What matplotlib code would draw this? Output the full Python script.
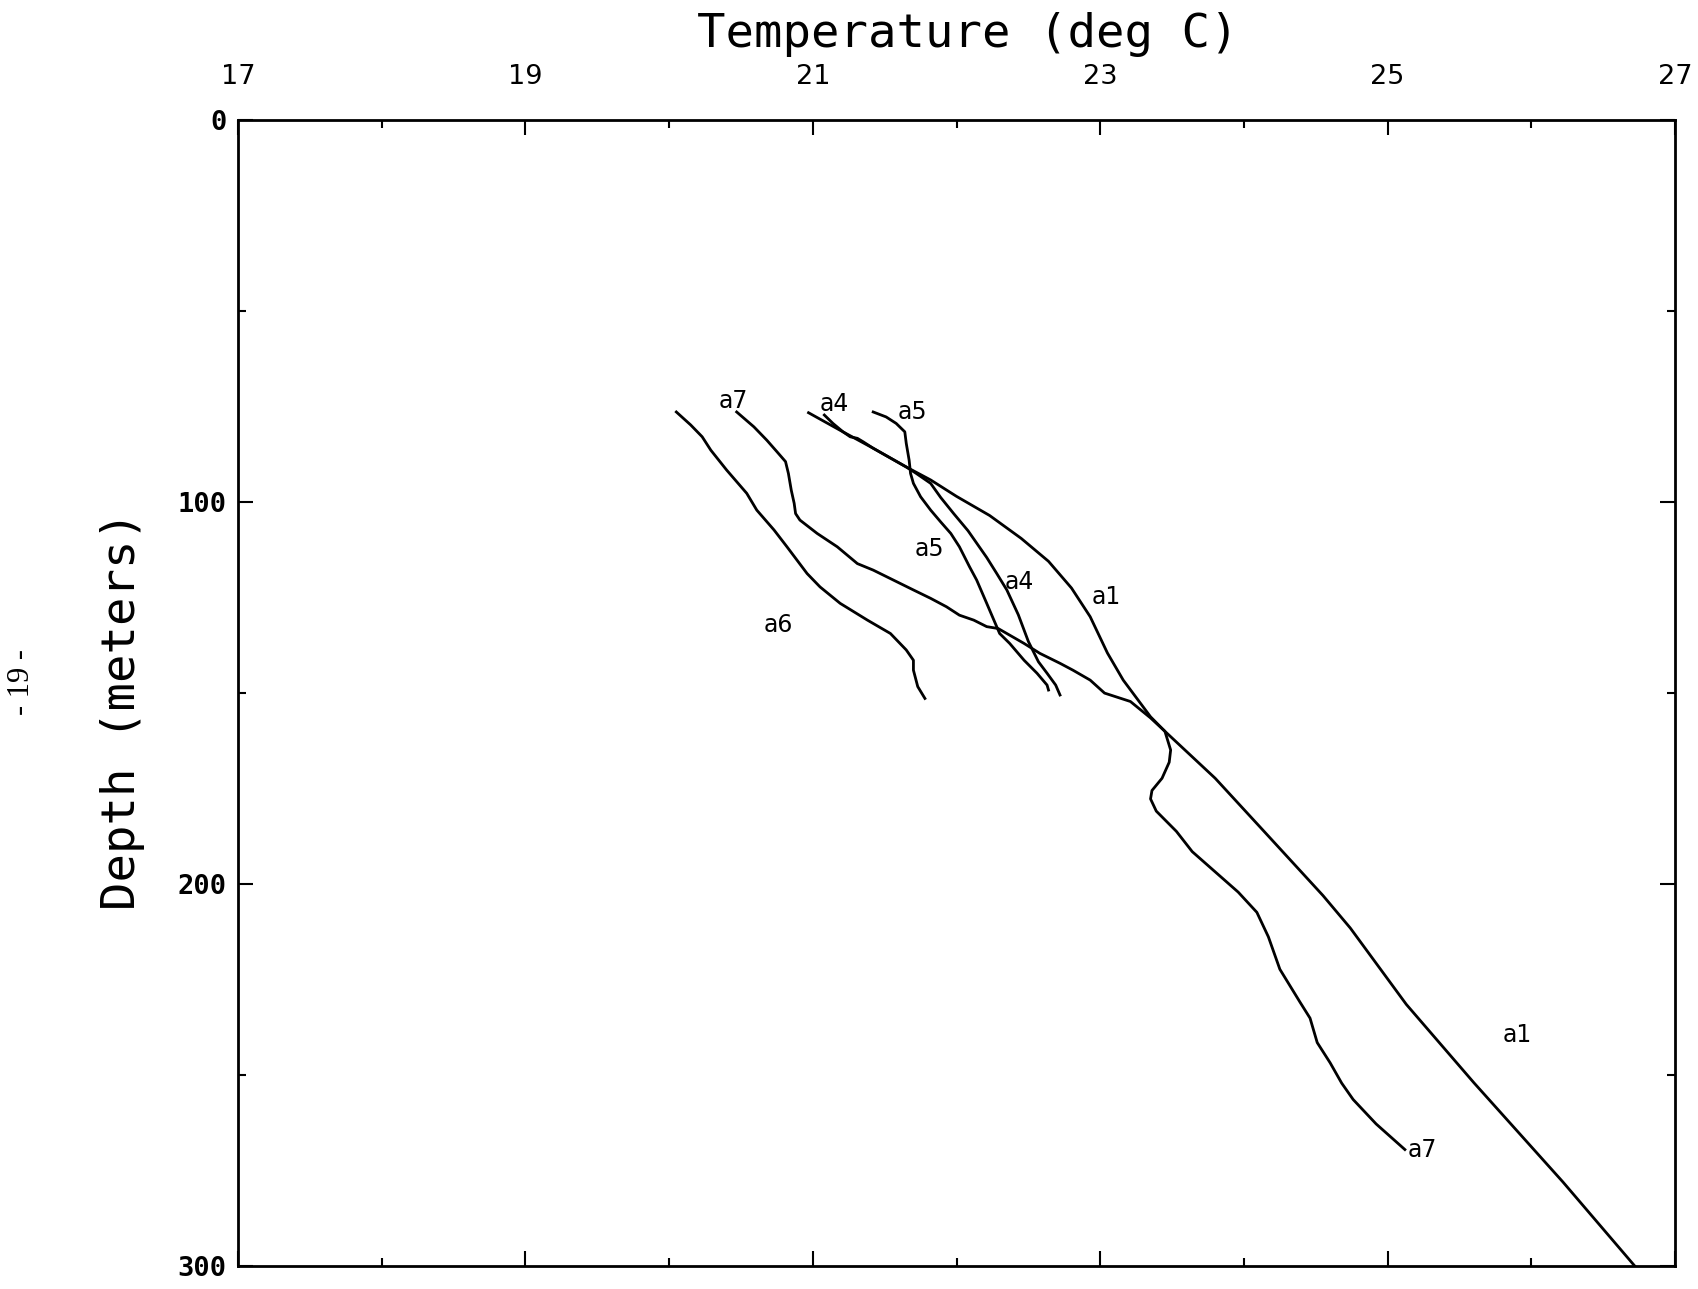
import matplotlib
matplotlib.use("Agg")
import matplotlib.pyplot as plt

# Temperature (deg C) vs depth (m) profiles
a1_temp = [20.97, 21.19, 21.42, 21.65, 21.82, 22.00, 22.23, 22.45, 22.64, 22.80,
           22.93, 23.05, 23.16, 23.35, 23.45, 23.80, 24.14, 24.55, 24.74, 25.13,
           25.60, 26.22, 26.72]
a1_depth = [76.6, 81.2, 85.9, 90.8, 94.2, 98.5, 103.5, 109.5, 115.5, 122.5,
            130.0, 139.5, 146.6, 156.2, 160.0, 172.3, 186.2, 203.0, 211.5, 231.5,
            252.0, 278.0, 300.0]

a4_temp = [21.08, 21.14, 21.21, 21.26, 21.31, 21.35, 21.42, 21.65, 21.72, 21.82,
           21.89, 21.98, 22.08, 22.21, 22.28, 22.35, 22.43, 22.50, 22.57, 22.63,
           22.69, 22.72]
a4_depth = [77.2, 79.4, 81.6, 82.9, 83.3, 84.2, 85.9, 90.8, 92.5, 95.1,
            98.8, 103.0, 107.5, 114.5, 118.7, 123.0, 129.5, 136.5, 141.8, 144.8,
            147.9, 150.5]

a5_temp = [21.42, 21.51, 21.58, 21.64, 21.65, 21.67, 21.68, 21.70, 21.75, 21.82,
           21.89, 21.96, 22.02, 22.09, 22.14, 22.21, 22.26, 22.30, 22.37, 22.47,
           22.56, 22.63, 22.64]
a5_depth = [76.4, 77.7, 79.4, 81.6, 84.6, 89.0, 92.5, 95.1, 98.6, 102.1,
            105.2, 108.2, 111.7, 116.9, 120.4, 126.5, 130.9, 134.4, 137.0, 141.4,
            144.8, 147.9, 149.2]

a6_temp = [20.05, 20.15, 20.23, 20.29, 20.40, 20.54, 20.61, 20.73, 20.82, 20.89,
           20.96, 21.05, 21.19, 21.38, 21.54, 21.65, 21.70, 21.70, 21.73, 21.78]
a6_depth = [76.4, 79.8, 82.9, 86.4, 91.6, 97.7, 102.1, 107.3, 111.7, 115.2,
            118.7, 122.2, 126.5, 130.9, 134.4, 138.7, 141.4, 144.0, 148.3, 151.4]

a7_temp = [20.47, 20.59, 20.68, 20.75, 20.81, 20.83, 20.85, 20.87, 20.88, 20.91,
           21.03, 21.17, 21.31, 21.42, 21.56, 21.70, 21.82, 21.93, 22.02, 22.12,
           22.21, 22.29, 22.35, 22.47, 22.58, 22.72, 22.81, 22.93, 23.03, 23.21,
           23.35, 23.45, 23.49, 23.48, 23.43, 23.36, 23.35, 23.39, 23.53, 23.64,
           23.80, 23.96, 24.09, 24.17, 24.25, 24.39, 24.46, 24.51, 24.60, 24.68,
           24.76, 24.92, 25.12]
a7_depth = [76.4, 80.3, 83.8, 86.8, 89.4, 92.5, 96.9, 100.3, 103.0, 104.7,
            108.2, 111.7, 116.1, 117.8, 120.4, 123.0, 125.2, 127.4, 129.6, 130.9,
            132.6, 133.1, 134.4, 137.0, 139.6, 142.2, 144.0, 146.6, 150.0, 152.2,
            156.5, 160.0, 164.9, 168.1, 172.3, 175.5, 177.7, 180.9, 186.2, 191.5,
            196.8, 202.1, 207.4, 213.8, 222.3, 230.9, 235.1, 241.5, 246.8, 252.1,
            256.4, 262.8, 269.5]

# curve labels: text, temperature, depth
label_text = ["a7", "a4", "a5", "a5", "a4", "a1", "a6", "a1"]
label_temp = [20.45, 21.15, 21.69, 21.81, 22.44, 23.04, 20.76, 25.90]
label_depth = [73.5, 74.4, 76.4, 112.4, 120.9, 124.9, 132.2, 239.4]

fig = plt.figure(figsize=(16.99, 12.89), dpi=100)
ax = fig.add_axes([0.1401, 0.0178, 0.8458, 0.8890])

for t, d in [(a1_temp, a1_depth), (a4_temp, a4_depth), (a5_temp, a5_depth),
             (a6_temp, a6_depth), (a7_temp, a7_depth)]:
    ax.plot(t, d, color="black", lw=2.0)

for s, t, d in zip(label_text, label_temp, label_depth):
    ax.text(t, d, s, fontsize=17, ha="center", va="center")
# end label of the long a7 profile sits right on its last point
ax.text(a7_temp[-1] + 0.02, a7_depth[-1], "a7", fontsize=17, ha="left", va="center")

ax.set_xlim(17, 27)
ax.set_ylim(300, 0)
ax.set_xticks([17, 19, 21, 23, 25, 27])
ax.set_xticks([18, 20, 22, 24, 26], minor=True)
ax.set_yticks([0, 100, 200, 300])
ax.set_yticks([50, 150, 250], minor=True)

ax.tick_params(which="both", direction="in", top=True, bottom=True, left=True,
               right=True, labeltop=True, labelbottom=False, width=1.5)
ax.tick_params(which="major", length=11)
ax.tick_params(which="minor", length=6)
ax.tick_params(axis="x", which="major", pad=22, labelsize=19.5)
ax.tick_params(axis="y", which="major", pad=8)
for lab in ax.get_yticklabels():
    lab.set_fontfamily("DejaVu Sans Mono")
    lab.set_fontweight("bold")
    lab.set_fontsize(19.5)

for sp in ax.spines.values():
    sp.set_linewidth(2.0)

fig.text(0.5695, 0.973, "Temperature (deg C)", fontsize=34, family="DejaVu Sans Mono",
         ha="center", va="center")
fig.text(0.072, 0.449, "Depth (meters)", fontsize=34, family="DejaVu Sans Mono",
         rotation=90, ha="center", va="center")
fig.text(0.0128, 0.471, "- 19 -", fontsize=22, family="Liberation Serif",
         rotation=90, ha="center", va="center")

fig.savefig("out.png", dpi=100)
